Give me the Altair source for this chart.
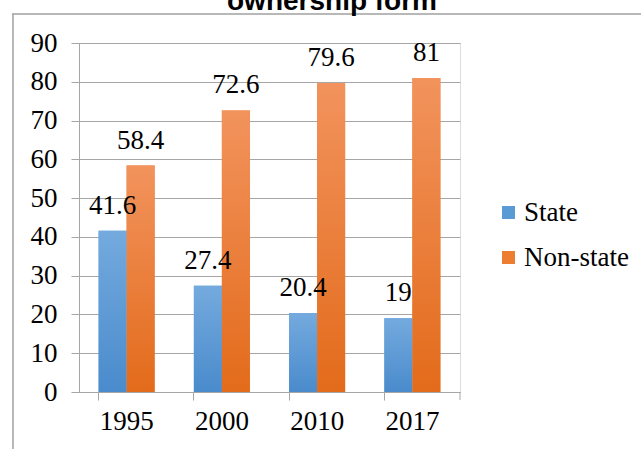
import altair as alt
import pandas as pd

years = ["1995", "2000", "2010", "2017"]
state = [41.6, 27.4, 20.4, 19]
non_state = [58.4, 72.6, 79.6, 81]
series = ["State", "Non-state"]
y_ticks = [0, 10, 20, 30, 40, 50, 60, 70, 80, 90]
title_text = "ownership form"

rows = []
for i, yr in enumerate(years):
    rows.append({"year": yr, "series": "State", "value": state[i]})
    rows.append({"year": yr, "series": "Non-state", "value": non_state[i]})
df = pd.DataFrame(rows)

W, H = 381, 349
SERIF = "Liberation Serif"
GRID = "#a6a6a6"
FS = 27

x_enc = alt.X("year:N", sort=years,
              scale=alt.Scale(paddingInner=0.412, paddingOuter=0.206),
              axis=alt.Axis(title=None, bandPosition=0,
                            tickSize=8, tickColor=GRID, domainColor=GRID,
                            labelFont=SERIF, labelFontSize=FS, labelColor="black",
                            labelPadding=8, labelAngle=0, grid=False))
xoff = alt.XOffset("series:N", sort=series, scale=alt.Scale(paddingInner=0, paddingOuter=0))
y_enc = alt.Y("value:Q", scale=alt.Scale(domain=[0, 90]),
              axis=alt.Axis(title=None, values=y_ticks, tickSize=8, tickColor=GRID,
                            domainColor=GRID, gridColor=GRID, grid=True,
                            labelFont=SERIF, labelFontSize=FS, labelColor="black",
                            labelPadding=14))

base = alt.Chart(df)

bars = base.mark_bar().encode(
    x=x_enc, xOffset=xoff, y=y_enc,
    color=alt.Color("series:N", sort=series,
                    scale=alt.Scale(domain=series, range=["#5b9bd5", "#ed7d31"]),
                    legend=alt.Legend(title=None, orient="none", legendX=416, legendY=156,
                                      symbolType="square", symbolSize=169,
                                      symbolStrokeWidth=0, labelFont=SERIF,
                                      labelFontSize=FS, labelColor="black",
                                      labelOffset=2, rowPadding=17, padding=0)),
)

blue_grad = alt.Gradient(gradient="linear",
                         stops=[alt.GradientStop(color="#74aade", offset=0),
                                alt.GradientStop(color="#4a8bcc", offset=1)],
                         x1=0, x2=0, y1=0, y2=1)
orange_grad = alt.Gradient(gradient="linear",
                           stops=[alt.GradientStop(color="#f2935d", offset=0),
                                  alt.GradientStop(color="#e36b1b", offset=1)],
                           x1=0, x2=0, y1=0, y2=1)

bars_state = base.mark_bar(color=blue_grad).encode(
    x=x_enc, xOffset=xoff, y=y_enc
).transform_filter(alt.datum.series == "State")
bars_non = base.mark_bar(color=orange_grad).encode(
    x=x_enc, xOffset=xoff, y=y_enc
).transform_filter(alt.datum.series == "Non-state")

labels = base.mark_text(font=SERIF, fontSize=FS, color="black", dy=-17,
                        baseline="alphabetic").encode(
    x=x_enc, xOffset=xoff, y=y_enc,
    text=alt.Text("value:Q", format=".1~f"),
)

last_tick = alt.Chart(pd.DataFrame({"a": [0]})).mark_rule(color=GRID).encode(
    x=alt.value(W), y=alt.value(H), y2=alt.value(H + 8))

frame_top = alt.Chart(pd.DataFrame({"a": [0]})).mark_rule(color="#a0a0a0", strokeWidth=1.5).encode(
    x=alt.value(-67), x2=alt.value(600), y=alt.value(-29))
frame_left = alt.Chart(pd.DataFrame({"a": [0]})).mark_rule(color="#a0a0a0", strokeWidth=1.5).encode(
    x=alt.value(-66), y=alt.value(-29), y2=alt.value(420))

title = alt.Chart(pd.DataFrame({"t": [title_text]})).mark_text(
    font="Liberation Sans", fontWeight="bold", fontSize=28, color="black",
    align="center", baseline="alphabetic").encode(
    x=alt.value(253), y=alt.value(-33), text="t:N")

chart = alt.layer(bars, bars_state, bars_non, labels, last_tick, frame_top, frame_left, title).properties(
    width=W, height=H,
    autosize=alt.AutoSizeParams(type="none"),
    padding={"left": 79, "top": 43, "right": 181, "bottom": 57},
).configure_view(stroke=None).configure(
    background="white", font=SERIF
).configure_legend(labelFont=SERIF, labelFontSize=FS, labelColor="black"
).configure_axis(labelFont=SERIF)

chart.save("out.html", embed_options={"renderer": "svg", "actions": False})
